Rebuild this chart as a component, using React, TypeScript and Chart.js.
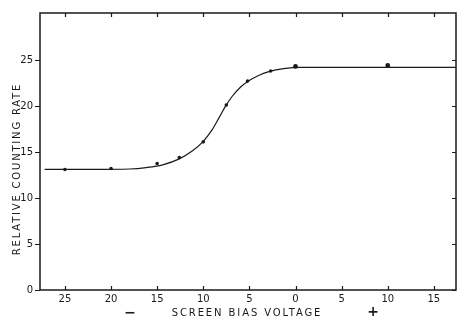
import React, { useEffect, useRef } from "react";
import { Chart, registerables } from "chart.js";

Chart.register(...registerables);

// Smooth fitted curve (screen bias voltage, relative counting rate)
const curveX = [-27.2, -22, -18, -16.2, -14.4, -12.6, -11.2, -10.05, -9.05, -8.3, -7.6, -6.9, -6.0, -5.1, -4.0, -2.8, -1.3, 0.5, 17.4];
const curveY = [13.1, 13.1, 13.15, 13.3, 13.6, 14.25, 15.1, 16.1, 17.4, 18.7, 19.95, 21.0, 22.0, 22.7, 23.3, 23.75, 24.05, 24.2, 24.2];

// Measured points
const pointX = [-25, -20, -15, -12.6, -10, -7.5, -5.2, -2.7, 0, 10];
const pointY = [13.1, 13.2, 13.75, 14.4, 16.1, 20.1, 22.7, 23.8, 24.3, 24.4];
const pointR = [1.8, 1.8, 1.8, 1.8, 1.8, 1.8, 1.8, 1.8, 2.4, 2.4];

const xTicks = [-25, -20, -15, -10, -5, 0, 5, 10, 15];
const yTicks = [0, 5, 10, 15, 20, 25];

const xTitle = "SCREEN BIAS VOLTAGE";
const yTitle = "RELATIVE COUNTING RATE";

const INK = "#1a1a1a";
const FONT = "DejaVu Sans";

const framePlugin = {
  id: "frame",
  afterDatasetsDraw(chart: any) {
    const { ctx, chartArea: a, scales } = chart;
    const xs = scales.x;
    const ys = scales.y;
    ctx.save();
    ctx.strokeStyle = INK;
    ctx.lineWidth = 1.5;
    ctx.strokeRect(a.left, a.top, a.right - a.left, a.bottom - a.top);
    ctx.lineWidth = 1.2;
    ctx.beginPath();
    for (const v of xTicks) {
      const px = Math.round(xs.getPixelForValue(v)) + 0.5;
      ctx.moveTo(px, a.bottom);
      ctx.lineTo(px, a.bottom - 4);
      ctx.moveTo(px, a.top);
      ctx.lineTo(px, a.top + 4);
    }
    for (const v of yTicks) {
      const py = Math.round(ys.getPixelForValue(v)) + 0.5;
      ctx.moveTo(a.left, py);
      ctx.lineTo(a.left - 5, py);
      ctx.moveTo(a.right, py);
      ctx.lineTo(a.right - 4, py);
    }
    ctx.stroke();

    // axis titles
    ctx.fillStyle = INK;
    ctx.font = `10px "${FONT}"`;
    ctx.textAlign = "center";
    ctx.textBaseline = "middle";
    (ctx as any).letterSpacing = "1.9px";
    ctx.fillText(xTitle, 247, 313);
    ctx.font = `bold 14px "${FONT}"`;
    (ctx as any).letterSpacing = "0px";
    ctx.fillText("\u2212", 130, 313);
    ctx.fillText("+", 373, 312);

    ctx.font = `10px "${FONT}"`;
    (ctx as any).letterSpacing = "1.8px";
    ctx.translate(17, 169);
    ctx.rotate(-Math.PI / 2);
    ctx.fillText(yTitle, 0, 0);
    ctx.restore();
  },
};

export default function App() {
  const ref = useRef<HTMLCanvasElement>(null);
  useEffect(() => {
    const canvas = ref.current!;
    const chart = new Chart(canvas, {
      type: "scatter",
      data: {
        datasets: [
          {
            type: "line",
            data: curveX.map((x, i) => ({ x, y: curveY[i] })),
            borderColor: INK,
            borderWidth: 1.2,
            pointRadius: 0,
            cubicInterpolationMode: "monotone",
            fill: false,
          } as any,
          {
            type: "scatter",
            data: pointX.map((x, i) => ({ x, y: pointY[i] })),
            backgroundColor: INK,
            borderColor: INK,
            pointRadius: pointR,
            borderWidth: 0,
          } as any,
        ],
      },
      options: {
        animation: false,
        responsive: false,
        maintainAspectRatio: false,
        layout: { padding: { top: 12, right: 1, left: 0, bottom: 0 } },
        plugins: { legend: { display: false }, tooltip: { enabled: false }, title: { display: false } },
        scales: {
          x: {
            type: "linear",
            min: -27.7,
            max: 17.4,
            grid: { display: false, drawTicks: false },
            border: { display: false },
            afterBuildTicks: (s: any) => {
              s.ticks = xTicks.map((value) => ({ value }));
            },
            afterFit: (s: any) => {
              s.height = 30;
            },
            ticks: {
              padding: 3,
              color: INK,
              font: { family: FONT, size: 10 },
              maxRotation: 0,
              autoSkip: false,
              callback: (v: any) => String(Math.abs(Number(v))),
            },
          },
          y: {
            type: "linear",
            min: 0,
            max: 30.1,
            grid: { display: false, drawTicks: false },
            border: { display: false },
            afterBuildTicks: (s: any) => {
              s.ticks = yTicks.map((value) => ({ value }));
            },
            afterFit: (s: any) => {
              s.width = 40;
            },
            ticks: {
              padding: 7,
              color: INK,
              font: { family: FONT, size: 10 },
              autoSkip: false,
            },
          },
        },
      },
      plugins: [framePlugin],
    });
    return () => chart.destroy();
  }, []);
  return (
    <div style={{ position: "fixed", left: 0, top: 0, width: 460, height: 320, background: "#fff" }}>
      <canvas ref={ref} width={460} height={320} style={{ display: "block", width: 460, height: 320 }} />
    </div>
  );
}
